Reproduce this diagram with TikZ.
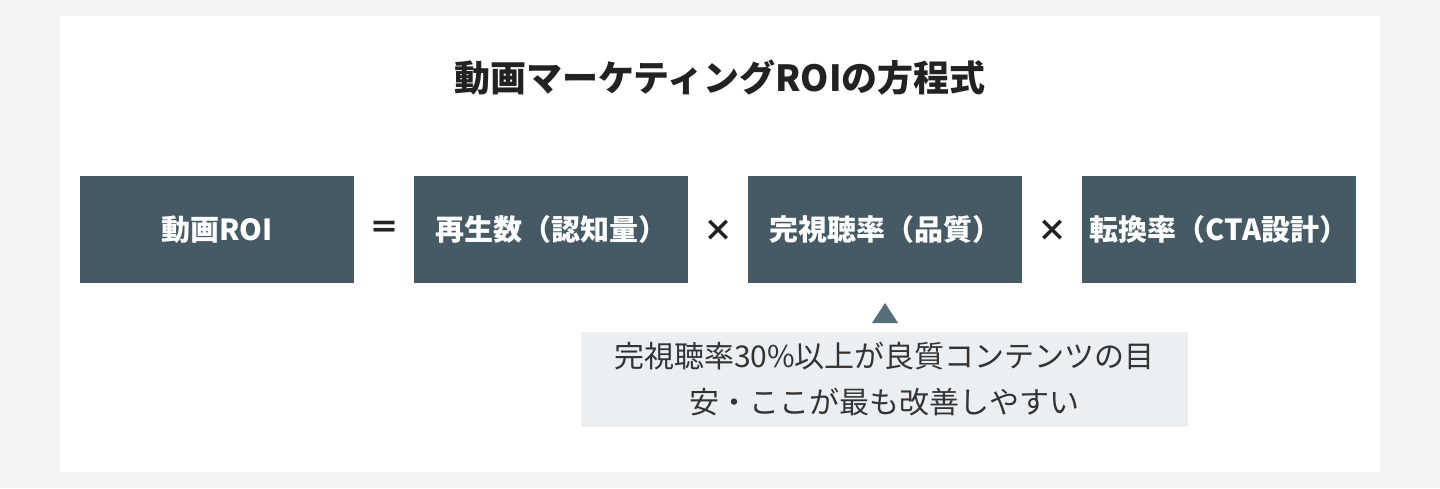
\documentclass[tikz,border=0pt]{standalone}
\usepackage{fontspec}
\setmainfont{Noto Sans CJK JP}
\begin{document}
\begin{tikzpicture}[x=1pt,y=-1pt,
  opbox/.style={fill=boxc,draw=none,minimum width=274pt,minimum height=107pt,inner sep=0pt,text=white,font=\fontsize{29}{32}\selectfont\bfseries},
  opsym/.style={font=\fontsize{30}{32}\selectfont\bfseries,text=symc,inner sep=0pt},
  ]
\definecolor{bgc}{HTML}{F4F4F4}
\definecolor{boxc}{HTML}{455A64}
\definecolor{tric}{HTML}{546E7A}
\definecolor{notec}{HTML}{ECEFF1}
\definecolor{symc}{HTML}{222222}
\definecolor{txtc}{HTML}{333333}
\fill[bgc] (0,0) rectangle (1440,488);
\useasboundingbox (0,0) rectangle (1440,488);
\fill[white] (60,16) rectangle (1380,472);
\node[font=\fontsize{36}{40}\selectfont\bfseries,text=symc] (title) at (720,78) {動画マーケティングROIの方程式};
\node[opbox] (b1) at (217,229.5) {動画ROI};
\node[opbox] (b2) at (551,229.5) {再生数（認知量）};
\node[opbox] (b3) at (885,229.5) {完視聴率（品質）};
\node[opbox] (b4) at (1219,229.5) {転換率（CTA設計）};
\node[opsym] (eq) at (384,229.5) {＝};
\node[opsym] (m1) at (718,231) {×};
\node[opsym] (m2) at (1052,231) {×};
\fill[tric] (872,323) -- (885,303) -- (898,323) -- cycle;
\node[fill=notec,minimum width=607pt,minimum height=95pt,inner sep=0pt,text=txtc,align=center,font=\fontsize{30}{46}\selectfont] (note) at (884.5,379.5) {完視聴率30\%以上が良質コンテンツの目\\安・ここが最も改善しやすい};
\end{tikzpicture}
\end{document}
